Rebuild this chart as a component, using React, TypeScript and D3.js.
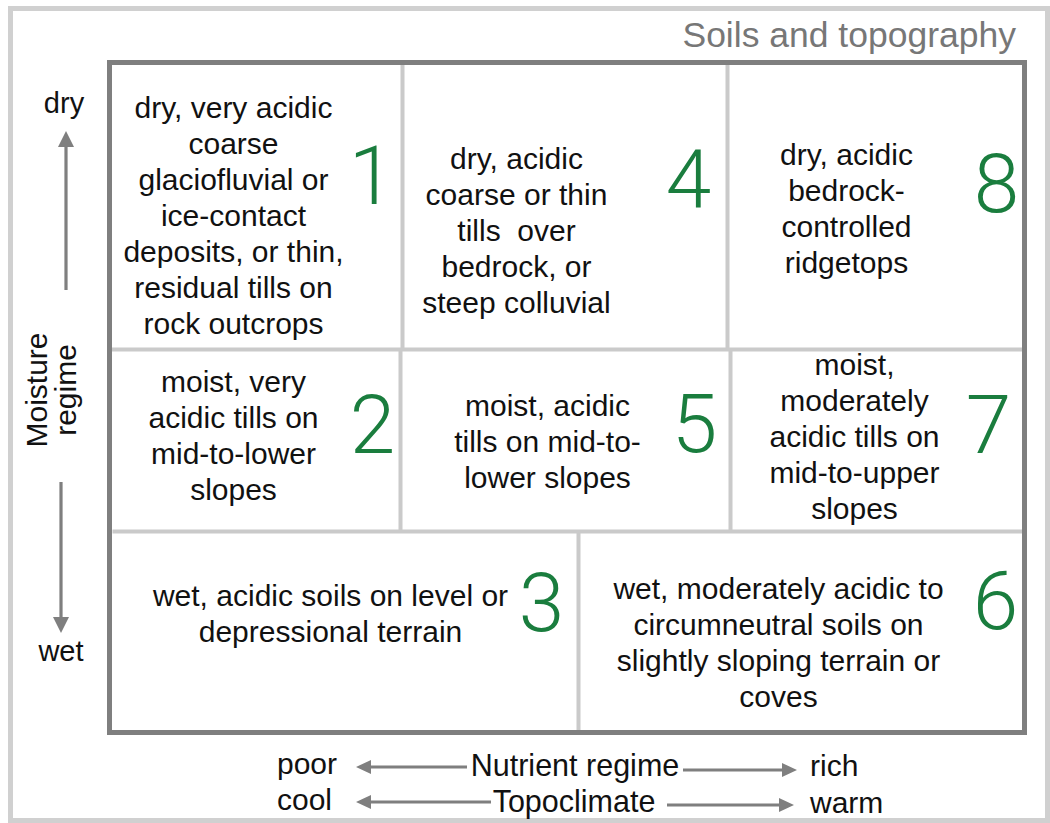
import React from "react";
import * as d3 from "d3";

// ---------- data ----------
const cellNumbers = ["1", "4", "8", "2", "5", "7", "3", "6"];
const cellTexts: string[][] = [
  ["dry, very acidic", "coarse", "glaciofluvial or", "ice-contact", "deposits, or thin,", "residual tills on", "rock outcrops"],
  ["dry, acidic", "coarse or thin", "tills  over", "bedrock, or", "steep colluvial"],
  ["dry, acidic", "bedrock-", "controlled", "ridgetops"],
  ["moist, very", "acidic tills on", "mid-to-lower", "slopes"],
  ["moist, acidic", "tills on mid-to-", "lower slopes"],
  ["moist,", "moderately", "acidic tills on", "mid-to-upper", "slopes"],
  ["wet, acidic soils on level or", "depressional terrain"],
  ["wet, moderately acidic to", "circumneutral soils on", "slightly sloping terrain or", "coves"],
];
const titleText = "Soils and topography";
const moistureLabels = ["dry", "wet"];
const moistureTitle = ["Moisture", "regime"];
const bottomRows = [
  { left: "poor", mid: "Nutrient regime", right: "rich" },
  { left: "cool", mid: "Topoclimate", right: "warm" },
];

// ---------- layout (local plot units, px from plot origin) ----------
const PLOT = { x0: 109.5, y0: 62.5, w: 915, h: 670 };
const rowBounds = [0, 287, 469, 670];
const colBounds = [
  [293, 618],
  [291, 621],
  [469],
];
// per cell: text centre x, first baseline y, number centre x, number baseline y
const cellLayout = [
  { tx: 124, ty: 55, nx: 262, ny: 141 },
  { tx: 407, ty: 106, nx: 579, ny: 145 },
  { tx: 737, ty: 102, nx: 887, ny: 149 },
  { tx: 124, ty: 329, nx: 263, ny: 390 },
  { tx: 438, ty: 353, nx: 585, ny: 389 },
  { tx: 745, ty: 312, nx: 879, ny: 390 },
  { tx: 221, ty: 543, nx: 432, ny: 568 },
  { tx: 669, ty: 536, nx: 886, ny: 566 },
];

const GREEN = "#1a7d3e";
const ARROW = "#7f7f7f";
const GRID = "#cacaca";
const FONT = "'Liberation Sans', Arial, sans-serif";
const NUM_FONT = "Roboto, 'Liberation Sans', sans-serif";

function arrowHead(tip: [number, number], dir: [number, number], len = 15, half = 7.5) {
  const [tx, ty] = tip;
  const [dx, dy] = dir;
  const bx = tx - dx * len, by = ty - dy * len;
  const px = -dy, py = dx;
  return d3.line()([
    [tx, ty],
    [bx + px * half, by + py * half],
    [bx - px * half, by - py * half],
    [tx, ty],
  ]) as string;
}

export default function App() {
  const x = d3.scaleLinear().domain([0, PLOT.w]).range([PLOT.x0, PLOT.x0 + PLOT.w]);
  const y = d3.scaleLinear().domain([0, PLOT.h]).range([PLOT.y0, PLOT.y0 + PLOT.h]);
  const lh = 36;

  const gridLines: [number, number, number, number][] = [];
  gridLines.push([0, rowBounds[1], PLOT.w, rowBounds[1]]);
  gridLines.push([3, rowBounds[2], PLOT.w, rowBounds[2]]);
  colBounds.forEach((cols, r) => {
    cols.forEach((c) => gridLines.push([c, rowBounds[r], c, rowBounds[r + 1]]));
  });

  const hArrow = (x1: number, x2: number, yy: number, dirSign: number) => {
    const len = 15;
    return (
      <g>
        <line x1={x1} y1={yy} x2={x2 - dirSign * (len - 1)} y2={yy} stroke={ARROW} strokeWidth={3.2} />
        <path d={arrowHead([x2, yy], [dirSign, 0], len, 7)} fill={ARROW} />
      </g>
    );
  };

  return (
    <svg
      width={1050}
      height={823}
      style={{ position: "absolute", left: 0, top: 0, display: "block", background: "#fff" }}
      fontFamily={FONT}
    >
      <rect x={0} y={0} width={1050} height={823} fill="#fff" />
      <rect x={10.5} y={8.5} width={1037} height={812} fill="none" stroke="#d0d0d0" strokeWidth={5} />
      <text x={1016} y={47} textAnchor="end" fontSize={35.5} fill="#777777">
        {titleText}
      </text>

      {gridLines.map((g, i) => (
        <line key={i} x1={x(g[0])} y1={y(g[1])} x2={x(g[2])} y2={y(g[3])} stroke={GRID} strokeWidth={4} />
      ))}
      <rect x={PLOT.x0} y={PLOT.y0} width={PLOT.w} height={PLOT.h} fill="none" stroke="#7f7f7f" strokeWidth={5} />

      {cellTexts.map((lines, i) => {
        const L = cellLayout[i];
        return (
          <g key={i}>
            <text textAnchor="middle" fontSize={30} fill="#111">
              {lines.map((t, j) => (
                <tspan key={j} x={x(L.tx)} y={y(L.ty + j * lh)} style={{ whiteSpace: "pre" }}>
                  {t}
                </tspan>
              ))}
            </text>
            <text
              x={x(L.nx)}
              y={y(L.ny)}
              textAnchor="middle"
              fontSize={82}
              fontWeight={300}
              fontFamily={NUM_FONT}
              fill={GREEN}
            >
              {cellNumbers[i]}
            </text>
          </g>
        );
      })}

      <text x={64} y={113} textAnchor="middle" fontSize={29} fill="#111">{moistureLabels[0]}</text>
      <text x={61} y={661} textAnchor="middle" fontSize={29} fill="#111">{moistureLabels[1]}</text>
      <line x1={66} y1={290} x2={66} y2={144} stroke={ARROW} strokeWidth={3.2} />
      <path d={arrowHead([66, 131], [0, -1], 16, 8)} fill={ARROW} />
      <line x1={61} y1={482} x2={61} y2={620} stroke={ARROW} strokeWidth={3.2} />
      <path d={arrowHead([61, 633], [0, 1], 16, 8)} fill={ARROW} />
      <g transform="translate(47,390) rotate(-90)">
        <text x={0} y={0} textAnchor="middle" fontSize={30} fill="#111">{moistureTitle[0]}</text>
        <text x={0} y={29} textAnchor="middle" fontSize={30} fill="#111">{moistureTitle[1]}</text>
      </g>

      <text x={277} y={774} fontSize={30} fill="#111">{bottomRows[0].left}</text>
      <text x={575} y={776} textAnchor="middle" fontSize={30.5} fill="#111">{bottomRows[0].mid}</text>
      <text x={810} y={776} fontSize={30} fill="#111">{bottomRows[0].right}</text>
      {hArrow(467, 356, 767, -1)}
      {hArrow(683, 797, 770, 1)}

      <text x={277} y={810} fontSize={30} fill="#111">{bottomRows[1].left}</text>
      <text x={574} y={812} textAnchor="middle" fontSize={30.5} fill="#111">{bottomRows[1].mid}</text>
      <text x={810} y={813} fontSize={30} fill="#111">{bottomRows[1].right}</text>
      {hArrow(491, 356, 802, -1)}
      {hArrow(667, 794, 805, 1)}
    </svg>
  );
}
